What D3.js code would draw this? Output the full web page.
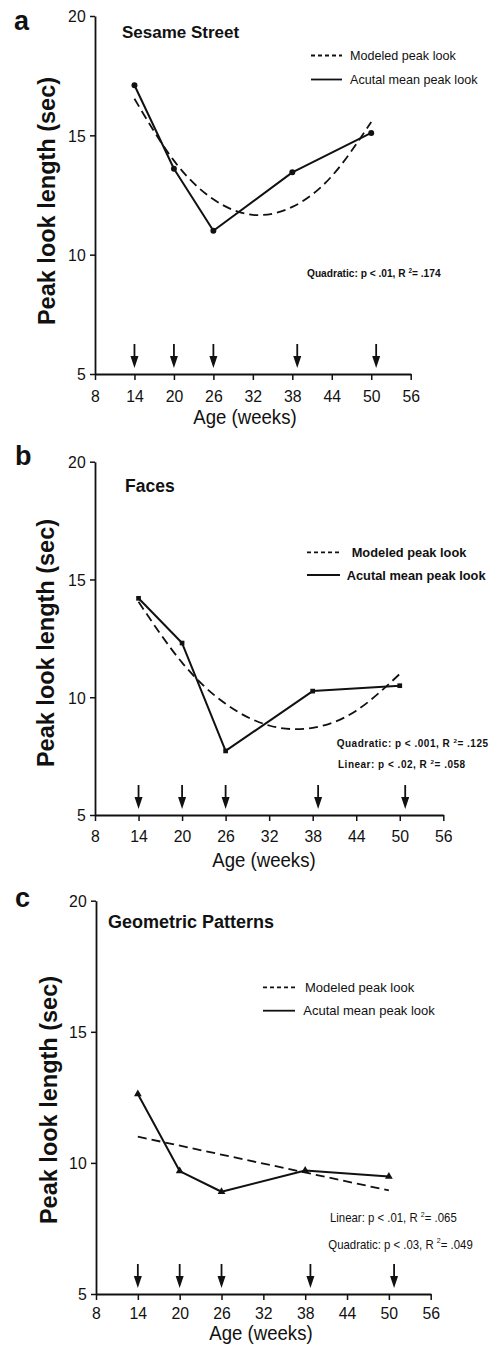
<!DOCTYPE html>
<html>
<head>
<meta charset="utf-8">
<script src="https://cdn.jsdelivr.net/npm/d3@7"></script>
<style>
  html, body { margin: 0; padding: 0; background: #fff; }
  svg { display: block; font-family: "Liberation Sans", Arial, Helvetica, sans-serif; }
  text { white-space: pre; }
</style>
</head>
<body>
<svg id="chart" width="495" height="1353"></svg>
<script>
// Axis ticks: age in weeks, peak look length in seconds
const ageTicks = [8, 14, 20, 26, 32, 38, 44, 50, 56];
const lookTicks = [5, 10, 15, 20];

// Ages of the five test sessions and the session markers under the curves
const sessionAges = [14, 20, 26, 38, 50];
const arrowAges = [14, 20, 26, 38.75, 50.75];

// Ages where the fitted models are sampled
const modelAges = [14, 20, 26, 32, 38, 44, 50];
const linearModelAges = [14, 50];

// Mean peak look length (sec) per session
const sesameActual = [17.1, 13.6, 11.0, 13.45, 15.1];
const facesActual = [14.2, 12.3, 7.72, 10.26, 10.49];
const geometricActual = [12.63, 9.69, 8.9, 9.71, 9.48];

// Modeled peak look length (sec)
const sesameModel = [16.53, 13.94, 12.32, 11.67, 12.0, 13.29, 15.56];
const facesModel = [14.05, 11.47, 9.72, 8.8, 8.7, 9.43, 10.99];
const geometricModel = [11.0, 8.95];

const legendLabels = ["Modeled peak look", "Acutal mean peak look"];

const sesameStats = [{ test: "Quadratic", p: "< .01", r2: ".174" }];
const facesStats = [
  { test: "Quadratic", p: "< .001", r2: ".125" },
  { test: "Linear", p: "< .02", r2: ".058" }
];
const geometricStats = [
  { test: "Linear", p: "< .01", r2: ".065" },
  { test: "Quadratic", p: "< .03", r2: ".049" }
];

const ink = "#111";
const svg = d3.select("#chart");

const panels = [
  {
    letter: "a", title: "Sesame Street", actual: sesameActual,
    modelX: modelAges, model: sesameModel, marker: "circle", stats: sesameStats,
    xRange: [95, 410.7], yRange: [374, 16], tickPad: 10,
    letterPos: [14, 30], titlePos: [122, 37.5], titleSize: 17,
    legendLine: [311, 342], legendRows: [55.5, 79.5], legendTextX: [350, 350],
    legendFont: { size: 13, weight: "normal", sx: 0.97 },
    statsX: [307], statsY: [277], statsFont: { size: 10.5, weight: "bold", sx: 0.97 },
    yLabelPos: [55, 201], xLabelPos: [245, 424]
  },
  {
    letter: "b", title: "Faces", actual: facesActual,
    modelX: modelAges, model: facesModel, marker: "square", stats: facesStats,
    xRange: [95, 443.3], yRange: [815, 461.7], tickPad: 9,
    letterPos: [15, 465], titlePos: [125, 491.5], titleSize: 17.5,
    legendLine: [307, 340], legendRows: [552.3, 575], legendTextX: [351.7, 346.7],
    legendFont: { size: 13.5, weight: "bold", sx: 0.95 },
    statsX: [336.7, 338], statsY: [747, 768], statsFont: { size: 10, weight: "bold", sx: 1, ls: 0.5 },
    yLabelPos: [53.5, 643], xLabelPos: [264, 867]
  },
  {
    letter: "c", title: "Geometric Patterns", actual: geometricActual,
    modelX: linearModelAges, model: geometricModel, marker: "triangle", stats: geometricStats,
    xRange: [96, 430.7], yRange: [1294, 900.7], tickPad: 7,
    letterPos: [15, 907], titlePos: [108, 928.3], titleSize: 18,
    legendLine: [263, 295], legendRows: [987.3, 1010.7], legendTextX: [305, 303.3],
    legendFont: { size: 13, weight: "normal", sx: 1 },
    statsX: [330, 328.3], statsY: [1222, 1248.5], statsFont: { size: 12, weight: "normal", sx: 0.95 },
    yLabelPos: [57, 1100], xLabelPos: [261, 1340]
  }
];

function addText(g, x, y, str, o) {
  const t = g.append("text")
    .attr("transform", `translate(${x},${y})${o.rotate ? ` rotate(${o.rotate})` : ""} scale(${o.sx || 1},1)`)
    .attr("text-anchor", o.anchor || "start")
    .attr("font-size", o.size)
    .attr("font-weight", o.weight || "normal")
    .attr("fill", ink);
  if (o.ls) t.attr("letter-spacing", o.ls);
  if (o.dy) t.attr("dy", o.dy);
  if (str) t.text(str);
  return t;
}

panels.forEach(p => {
  const g = svg.append("g");
  const x = d3.scaleLinear().domain([8, 56]).range(p.xRange);
  const y = d3.scaleLinear().domain([5, 20]).range(p.yRange);
  const yBase = y(5);

  // Axes
  const gx = g.append("g")
    .attr("transform", `translate(0,${yBase})`)
    .call(d3.axisBottom(x).tickValues(ageTicks).tickSize(6).tickSizeOuter(0).tickPadding(p.tickPad));
  const gy = g.append("g")
    .attr("transform", `translate(${x(8)},0)`)
    .call(d3.axisLeft(y).tickValues(lookTicks).tickSize(5).tickSizeOuter(0).tickPadding(5));
  [gx, gy].forEach(a => {
    a.attr("font-family", null).attr("font-size", null);
    a.select(".domain").attr("stroke", ink).attr("stroke-width", 1.8);
    a.selectAll(".tick line").attr("stroke", ink).attr("stroke-width", 1.5);
    a.selectAll(".tick text")
      .attr("fill", ink)
      .attr("font-size", 17)
      .attr("transform", "scale(0.93,1)");
  });
  gy.selectAll(".tick text").attr("dy", "0.35em");

  // Axis titles
  addText(g, p.xLabelPos[0], p.xLabelPos[1], "Age (weeks)", { size: 20, anchor: "middle", sx: 0.93 });
  addText(g, p.yLabelPos[0], p.yLabelPos[1], "Peak look length (sec)",
    { size: 23.5, weight: "bold", anchor: "middle", rotate: -90 });

  // Panel letter and title
  addText(g, p.letterPos[0], p.letterPos[1], p.letter, { size: 27, weight: "bold" });
  addText(g, p.titlePos[0], p.titlePos[1], p.title, { size: p.titleSize, weight: "bold" });

  // Session arrows along the age axis
  arrowAges.forEach(a => {
    const ax = x(a);
    g.append("line")
      .attr("x1", ax).attr("x2", ax)
      .attr("y1", yBase - 30).attr("y2", yBase - 16)
      .attr("stroke", ink).attr("stroke-width", 1.8);
    g.append("path")
      .attr("d", `M${ax - 4},${yBase - 18}L${ax + 4},${yBase - 18}L${ax},${yBase - 6}Z`)
      .attr("fill", ink);
  });

  // Modeled curve (dashed)
  const modelPts = p.modelX.map((a, i) => [a, p.model[i]]);
  g.append("path")
    .datum(modelPts)
    .attr("d", d3.line().x(d => x(d[0])).y(d => y(d[1])).curve(d3.curveNatural))
    .attr("fill", "none")
    .attr("stroke", ink)
    .attr("stroke-width", 1.8)
    .attr("stroke-dasharray", "9,5");

  // Actual means (solid line with markers)
  const actualPts = sessionAges.map((a, i) => [a, p.actual[i]]);
  g.append("path")
    .datum(actualPts)
    .attr("d", d3.line().x(d => x(d[0])).y(d => y(d[1])))
    .attr("fill", "none")
    .attr("stroke", ink)
    .attr("stroke-width", 2)
    .attr("stroke-linejoin", "round");

  const symType = p.marker === "circle" ? d3.symbolCircle
    : p.marker === "square" ? d3.symbolSquare : d3.symbolTriangle;
  const symSize = p.marker === "circle" ? 28 : p.marker === "square" ? 22 : 26;
  g.selectAll(".marker")
    .data(actualPts)
    .join("path")
    .attr("class", "marker")
    .attr("transform", d => `translate(${x(d[0])},${y(d[1])})`)
    .attr("d", d3.symbol().type(symType).size(symSize))
    .attr("fill", ink);

  // Legend
  const [lx0, lx1] = p.legendLine;
  g.append("line")
    .attr("x1", lx0).attr("x2", lx1)
    .attr("y1", p.legendRows[0]).attr("y2", p.legendRows[0])
    .attr("stroke", ink).attr("stroke-width", 1.8).attr("stroke-dasharray", "4,3");
  g.append("line")
    .attr("x1", lx0).attr("x2", lx1)
    .attr("y1", p.legendRows[1]).attr("y2", p.legendRows[1])
    .attr("stroke", ink).attr("stroke-width", 1.8);
  legendLabels.forEach((lab, i) => {
    addText(g, p.legendTextX[i], p.legendRows[i], lab,
      Object.assign({ dy: "0.36em" }, p.legendFont));
  });

  // Model statistics
  p.stats.forEach((s, i) => {
    const f = p.statsFont;
    const t = addText(g, p.statsX[i] !== undefined ? p.statsX[i] : p.statsX[0], p.statsY[i], "", f);
    t.append("tspan").text(`${s.test}: p ${s.p}, R `);
    t.append("tspan").attr("font-size", f.size * 0.62).attr("dy", -f.size * 0.42).text("2");
    t.append("tspan").attr("dy", f.size * 0.42).text(`= ${s.r2}`);
  });
});
</script>
</body>
</html>
